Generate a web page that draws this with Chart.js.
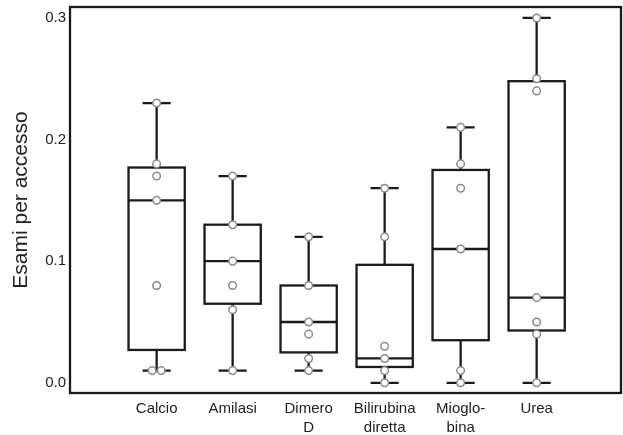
<!DOCTYPE html>
<html>
<head>
<meta charset="utf-8">
<script src="https://cdn.jsdelivr.net/npm/chart.js@4"></script>
<style>
  body { margin: 0; background: #fff; }
  #wrap { width: 623px; height: 435px; }
</style>
</head>
<body>
<div id="wrap"><canvas id="chart" width="623" height="435"></canvas></div>
<script>
// data
const categories = [["Calcio"], ["Amilasi"], ["Dimero", "D"], ["Bilirubina", "diretta"], ["Mioglo-", "bina"], ["Urea"]];
const whiskerLow = [0.01, 0.01, 0.01, 0.0, 0.0, 0.0];
const quartile1 = [0.027, 0.065, 0.025, 0.013, 0.035, 0.043];
const medians = [0.15, 0.1, 0.05, 0.02, 0.11, 0.07];
const quartile3 = [0.177, 0.13, 0.08, 0.097, 0.175, 0.248];
const whiskerHigh = [0.23, 0.17, 0.12, 0.16, 0.21, 0.3];
const observations = [
  [0.23, 0.18, 0.17, 0.15, 0.08, 0.01, 0.01],
  [0.17, 0.13, 0.1, 0.08, 0.06, 0.01],
  [0.12, 0.08, 0.05, 0.04, 0.02, 0.01],
  [0.16, 0.12, 0.03, 0.02, 0.01, 0.0],
  [0.21, 0.18, 0.16, 0.11, 0.01, 0.0],
  [0.3, 0.25, 0.24, 0.07, 0.05, 0.04, 0.0],
];
const yTicks = [0, 0.1, 0.2, 0.3];

const lineColor = "#1a1a1a";
const textColor = "#222";
const fontFamily = "'Liberation Sans', Arial, sans-serif";
const boxHalf = 0.37;
const capHalf = 0.185;
const jitter = 0.12;

// points: identical values in the same group are spread sideways a little
function buildPoints() {
  const pts = [];
  observations.forEach((vals, i) => {
    const seen = {};
    vals.forEach((v) => {
      const n = vals.filter((w) => w === v).length;
      const k = seen[v] || 0;
      seen[v] = k + 1;
      pts.push({ x: i + (k - (n - 1) / 2) * jitter, y: v });
    });
  });
  return pts;
}

const boxPlugin = {
  id: "boxes",
  beforeDatasetsDraw(chart) {
    const { ctx, scales } = chart;
    const x = scales.x;
    const y = scales.y;
    ctx.save();
    ctx.strokeStyle = lineColor;
    ctx.lineWidth = 2.3;
    categories.forEach((c, i) => {
      const xc = x.getPixelForValue(i);
      const bl = x.getPixelForValue(i - boxHalf);
      const br = x.getPixelForValue(i + boxHalf);
      const cl = x.getPixelForValue(i - capHalf);
      const cr = x.getPixelForValue(i + capHalf);
      const yLo = y.getPixelForValue(whiskerLow[i]);
      const yQ1 = y.getPixelForValue(quartile1[i]);
      const yMed = y.getPixelForValue(medians[i]);
      const yQ3 = y.getPixelForValue(quartile3[i]);
      const yHi = y.getPixelForValue(whiskerHigh[i]);
      ctx.beginPath();
      // whiskers
      ctx.moveTo(xc, yQ3); ctx.lineTo(xc, yHi);
      ctx.moveTo(xc, yQ1); ctx.lineTo(xc, yLo);
      // caps
      ctx.moveTo(cl, yHi); ctx.lineTo(cr, yHi);
      ctx.moveTo(cl, yLo); ctx.lineTo(cr, yLo);
      // median
      ctx.moveTo(bl, yMed); ctx.lineTo(br, yMed);
      ctx.stroke();
      ctx.strokeRect(bl, yQ3, br - bl, yQ1 - yQ3);
    });
    ctx.restore();
  },
  afterDraw(chart) {
    const { ctx, chartArea } = chart;
    ctx.save();
    ctx.strokeStyle = lineColor;
    ctx.lineWidth = 2.3;
    ctx.strokeRect(chartArea.left, chartArea.top, chartArea.right - chartArea.left, chartArea.bottom - chartArea.top);
    ctx.restore();
  },
};

new Chart(document.getElementById("chart"), {
  type: "scatter",
  data: {
    datasets: [
      {
        data: buildPoints(),
        backgroundColor: "#fff",
        borderColor: "#8a8a8a",
        borderWidth: 1.5,
        pointRadius: 3.8,
      },
    ],
  },
  options: {
    responsive: false,
    animation: false,
    layout: { autoPadding: false, padding: { top: 7, right: 2, left: 0, bottom: 0 } },
    plugins: {
      legend: { display: false },
      tooltip: { enabled: false },
    },
    scales: {
      x: {
        type: "linear",
        min: -1.14,
        max: 6.11,
        grid: { display: false, drawTicks: false },
        border: { display: false },
        afterBuildTicks: (scale) => {
          scale.ticks = categories.map((c, i) => ({ value: i }));
        },
        afterFit: (scale) => {
          scale.height = 42;
          scale.paddingLeft = 0;
          scale.paddingRight = 0;
        },
        ticks: {
          autoSkip: false,
          maxRotation: 0,
          padding: 6,
          color: textColor,
          font: { family: fontFamily, size: 15, lineHeight: 1.27 },
          callback: (v) => categories[v],
        },
      },
      y: {
        min: -0.0084,
        max: 0.309,
        grid: { display: false, drawTicks: false },
        border: { display: false },
        afterBuildTicks: (scale) => {
          scale.ticks = yTicks.map((v) => ({ value: v }));
        },
        afterFit: (scale) => {
          scale.width = 70;
          scale.paddingTop = 0;
          scale.paddingBottom = 0;
        },
        ticks: {
          padding: 4,
          color: textColor,
          font: { family: fontFamily, size: 15 },
          callback: (v) => v.toFixed(1),
        },
        title: {
          display: true,
          text: "Esami per accesso",
          color: textColor,
          font: { family: fontFamily, size: 21 },
          padding: { top: 9, bottom: 0 },
        },
      },
    },
  },
  plugins: [boxPlugin],
});
</script>
</body>
</html>
